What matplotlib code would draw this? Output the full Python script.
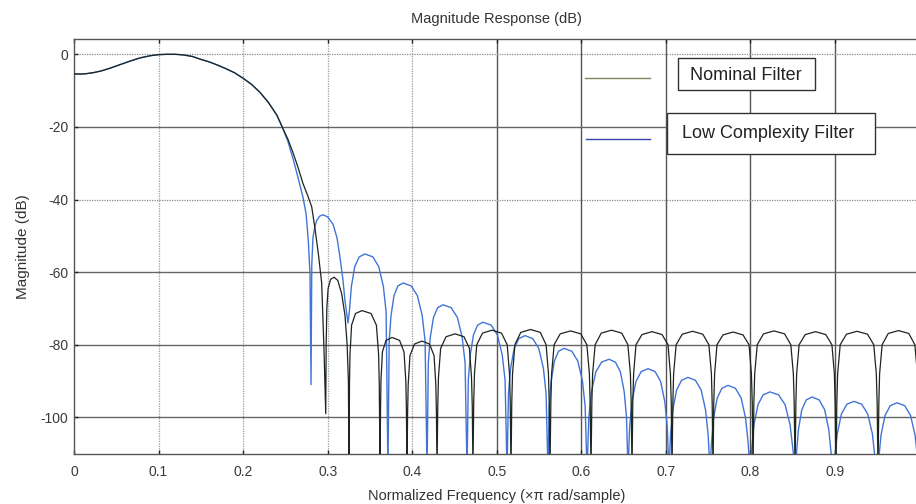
import matplotlib
matplotlib.use("Agg")
import matplotlib.pyplot as plt
import numpy as np
from matplotlib.lines import Line2D
from matplotlib.patches import Rectangle

plt.rcParams['font.family'] = ['Liberation Sans', 'DejaVu Sans']
plt.rcParams['axes.unicode_minus'] = False

# passband, shared by both filters
passband_freq = [0.0, 0.008, 0.016, 0.024, 0.032, 0.043, 0.054, 0.066, 0.078, 0.090,
                 0.100, 0.110, 0.120, 0.130, 0.140, 0.150, 0.160, 0.170, 0.180, 0.190,
                 0.200, 0.210, 0.220, 0.230, 0.240, 0.246]
passband_db = [-5.4, -5.45, -5.3, -5.0, -4.6, -3.8, -2.9, -1.9, -1.0, -0.4,
               -0.1, 0.0, 0.0, -0.2, -0.6, -1.4, -2.1, -3.0, -4.0, -5.1,
               -6.6, -8.3, -10.5, -13.3, -16.8, -19.9]

# nominal filter: transition band + stopband lobes
nominal_freq = [
    0.2530, 0.2593, 0.2650, 0.2708, 0.2765, 0.2811, 0.2850, 0.2890, 0.2929, 0.2956, 0.2977,
    0.2982, 0.2990, 0.3005, 0.3035, 0.3075, 0.3120, 0.3166, 0.3205, 0.3230, 0.3245, 0.3252,
    0.3258, 0.3264, 0.3283, 0.3329, 0.3406, 0.3513, 0.3576, 0.3602, 0.3610, 0.3619,
    0.3625, 0.3630, 0.3647, 0.3690, 0.3761, 0.3850, 0.3903, 0.3924, 0.3931, 0.3938,
    0.3945, 0.3952, 0.3973, 0.4027, 0.4115, 0.4204, 0.4258, 0.4279, 0.4286, 0.4293,
    0.4302, 0.4310, 0.4336, 0.4400, 0.4506, 0.4612, 0.4676, 0.4701, 0.4710, 0.4718,
    0.4727, 0.4736, 0.4763, 0.4831, 0.4943, 0.5056, 0.5123, 0.5150, 0.5159, 0.5168,
    0.5177, 0.5186, 0.5214, 0.5283, 0.5399, 0.5514, 0.5583, 0.5611, 0.5620, 0.5629,
    0.5639, 0.5648, 0.5678, 0.5750, 0.5872, 0.5993, 0.6065, 0.6095, 0.6104, 0.6114,
    0.6124, 0.6133, 0.6163, 0.6235, 0.6357, 0.6478, 0.6550, 0.6580, 0.6589, 0.6599,
    0.6608, 0.6618, 0.6646, 0.6717, 0.6836, 0.6954, 0.7025, 0.7053, 0.7063, 0.7072,
    0.7082, 0.7091, 0.7121, 0.7193, 0.7315, 0.7436, 0.7508, 0.7538, 0.7547, 0.7557,
    0.7566, 0.7576, 0.7604, 0.7675, 0.7794, 0.7912, 0.7983, 0.8011, 0.8021, 0.8030,
    0.8040, 0.8050, 0.8080, 0.8154, 0.8279, 0.8403, 0.8477, 0.8507, 0.8517, 0.8527,
    0.8537, 0.8546, 0.8575, 0.8648, 0.8769, 0.8890, 0.8963, 0.8992, 0.9001, 0.9011,
    0.9021, 0.9031, 0.9061, 0.9135, 0.9260, 0.9384, 0.9458, 0.9488, 0.9498, 0.9508,
    0.9518, 0.9527, 0.9557, 0.9629, 0.9751, 0.9872, 0.9944, 0.9974, 0.9983, 0.9993,
]
nominal_db = [
    -23.4, -27.3, -31.2, -35.6, -39, -42, -48, -55, -63, -81, -99,
    -80, -70, -64.5, -62, -61.4, -62.3, -66, -72, -80, -90, -115,
    -90.6, -82.6, -74.6, -71.4, -70.6, -71.4, -74.6, -82.6, -90.6, -115,
    -98, -90, -82, -78.8, -78, -78.8, -82, -90, -98, -115,
    -99, -91, -83, -79.8, -79, -79.8, -83, -91, -99, -115,
    -97, -89, -81, -77.8, -77, -77.8, -81, -89, -97, -115,
    -96, -88, -80, -76.8, -76, -76.8, -80, -88, -96, -115,
    -96, -88, -80, -76.6, -75.8, -76.6, -80, -88, -96, -115,
    -96, -88, -80, -77.0, -76.2, -77.0, -80, -88, -96, -115,
    -96, -88, -80, -76.8, -76.0, -76.8, -80, -88, -96, -115,
    -96, -88, -80, -77.2, -76.4, -77.2, -80, -88, -96, -115,
    -96, -88, -80, -77.1, -76.3, -77.1, -80, -88, -96, -115,
    -96, -88, -80, -77.3, -76.5, -77.3, -80, -88, -96, -115,
    -96, -88, -80, -77.0, -76.2, -77.0, -80, -88, -96, -115,
    -96, -88, -80, -77.2, -76.4, -77.2, -80, -88, -96, -115,
    -96, -88, -80, -77.1, -76.3, -77.1, -80, -88, -96, -115,
    -96, -88, -80, -76.9, -76.1, -76.9, -80, -88, -96, -115,
]

# low complexity filter: transition band + stopband lobes
lowc_freq = [
    0.2530, 0.2593, 0.2650, 0.2708, 0.2745, 0.2771, 0.2791, 0.2803,
    0.2812, 0.2826, 0.2850, 0.2870, 0.2905, 0.2945, 0.3000, 0.3063, 0.3110, 0.3146, 0.3180, 0.3205, 0.3240,
    0.3256, 0.3280, 0.3320, 0.3373, 0.3441, 0.3534, 0.3604, 0.3659, 0.3691, 0.3713,
    0.3727, 0.3749, 0.3784, 0.3830, 0.3891, 0.3988, 0.4061, 0.4118, 0.4152, 0.4175,
    0.4190, 0.4213, 0.4251, 0.4300, 0.4364, 0.4461, 0.4534, 0.4591, 0.4625, 0.4648,
    0.4663, 0.4686, 0.4724, 0.4773, 0.4837, 0.4934, 0.5007, 0.5064, 0.5098, 0.5121,
    0.5138, 0.5163, 0.5206, 0.5261, 0.5333, 0.5425, 0.5496, 0.5551, 0.5583, 0.5605,
    0.5620, 0.5643, 0.5681, 0.5730, 0.5795, 0.5887, 0.5958, 0.6013, 0.6045, 0.6067,
    0.6088, 0.6119, 0.6171, 0.6239, 0.6327, 0.6403, 0.6462, 0.6507, 0.6534, 0.6552,
    0.6571, 0.6599, 0.6646, 0.6708, 0.6788, 0.6872, 0.6937, 0.6986, 0.7016, 0.7036,
    0.7054, 0.7081, 0.7126, 0.7185, 0.7261, 0.7349, 0.7417, 0.7469, 0.7500, 0.7521,
    0.7538, 0.7564, 0.7606, 0.7662, 0.7734, 0.7822, 0.7890, 0.7942, 0.7973, 0.7994,
    0.8013, 0.8041, 0.8089, 0.8150, 0.8231, 0.8332, 0.8409, 0.8468, 0.8503, 0.8527,
    0.8543, 0.8567, 0.8607, 0.8660, 0.8728, 0.8812, 0.8877, 0.8926, 0.8956, 0.8976,
    0.8996, 0.9026, 0.9075, 0.9140, 0.9224, 0.9316, 0.9387, 0.9442, 0.9474, 0.9496,
    0.9515, 0.9543, 0.9591, 0.9652, 0.9733, 0.9824, 0.9893, 0.9947, 0.9979, 1.0000,
]
lowc_db = [
    -24, -29, -34, -39.4, -44, -51.4, -60.6, -91,
    -58, -50.5, -47.3, -45.8, -44.6, -44.2, -44.8, -46.8, -50.5, -56, -62, -68, -74,
    -71, -64, -58.5, -55.8, -55, -55.8, -58.5, -64, -71, -115,
    -79, -72, -66.5, -63.8, -63, -63.8, -66.5, -72, -79, -115,
    -85, -78, -72.5, -69.8, -69, -69.8, -72.5, -78, -85, -115,
    -89.8, -82.8, -77.3, -74.6, -73.8, -74.6, -77.3, -82.8, -89.8, -115,
    -93.5, -86.5, -81, -78.3, -77.5, -78.3, -81, -86.5, -93.5, -115,
    -97, -90, -84.5, -81.8, -81, -81.8, -84.5, -90, -97, -115,
    -100, -93, -87.5, -84.8, -84, -84.8, -87.5, -93, -100, -115,
    -102.6, -95.6, -90.1, -87.4, -86.6, -87.4, -90.1, -95.6, -102.6, -115,
    -105, -98, -92.5, -89.8, -89, -89.8, -92.5, -98, -105, -115,
    -107.2, -100.2, -94.7, -92, -91.2, -92, -94.7, -100.2, -107.2, -115,
    -109, -102, -96.5, -93.8, -93, -93.8, -96.5, -102, -109, -115,
    -110.4, -103.4, -97.9, -95.2, -94.4, -95.2, -97.9, -103.4, -110.4, -115,
    -111.6, -104.6, -99.1, -96.4, -95.6, -96.4, -99.1, -104.6, -111.6, -115,
    -112, -105, -99.5, -96.8, -96, -96.8, -99.5, -105, -112, -115,
]

xticks = [0, 0.1, 0.2, 0.3, 0.4, 0.5, 0.6, 0.7, 0.8, 0.9]
xticklabels = ['0', '0.1', '0.2', '0.3', '0.4', '0.5', '0.6', '0.7', '0.8', '0.9']
yticks = [0, -20, -40, -60, -80, -100]
solid_vgrid = [0.5, 0.6, 0.7, 0.8, 0.9]
solid_hgrid = [-20, -60, -80, -100]

W, H = 916, 504


def fig_xy(x, y):
    # pixel position -> figure fraction
    return x / W, 1 - y / H


fig = plt.figure(figsize=(W / 100, H / 100), dpi=100)
ax = fig.add_axes([74 / W, 1 - 454 / H, (919.6 - 74) / W, (454 - 38.5) / H])

# grid, the scan has a mix of solid and dotted lines
for xv in xticks[1:]:
    if xv in solid_vgrid:
        ax.axvline(xv, color='#555555', lw=1.0, zorder=0)
    else:
        ax.axvline(xv, color='#9a9a9a', lw=0.9, ls=(0, (1, 1)), zorder=0)
for yv in yticks:
    if yv in solid_hgrid:
        ax.axhline(yv, color='#666666', lw=1.0, zorder=0)
    else:
        ax.axhline(yv, color='#8a8a8a', lw=0.9, ls=(0, (1, 1)), zorder=0)

lowc_f = np.concatenate([passband_freq, lowc_freq])
lowc_m = np.concatenate([passband_db, lowc_db])
nom_f = np.concatenate([passband_freq, nominal_freq])
nom_m = np.concatenate([passband_db, nominal_db])

ax.plot(lowc_f, lowc_m, color='#4274d6', lw=1.0, zorder=2)
ax.plot(nom_f, nom_m, color='#1c261c', lw=0.9, zorder=3)

ax.set_xlim(0, 1)
ax.set_ylim(-110.1, 4.35)
ax.set_xticks(xticks)
ax.set_xticklabels(xticklabels)
ax.set_yticks(yticks)
ax.tick_params(direction='in', length=3, width=1, colors='#222222', labelcolor='#3a3a3a',
               labelsize=10, top=True, right=True)
ax.tick_params(axis='x', pad=8)
ax.tick_params(axis='y', pad=4)
for side in ['left', 'top', 'bottom']:
    ax.spines[side].set_color('#555555')
    ax.spines[side].set_linestyle((0, (1, 1)))
    ax.spines[side].set_linewidth(1.0)

ax.set_title('Magnitude Response (dB)', fontsize=10.5, color='#333333', pad=11)
ax.set_xlabel('Normalized Frequency (\u00d7\u03c0 rad/sample)', fontsize=10.5, color='#333333', labelpad=7)
ax.set_ylabel('Magnitude (dB)', fontsize=11, color='#333333', labelpad=8)

# hand-drawn style legend
fig.add_artist(Line2D([fig_xy(585, 0)[0], fig_xy(650, 0)[0]], [fig_xy(0, 78)[1]] * 2,
                      transform=fig.transFigure, color='#7d8560', lw=1.0))
fig.add_artist(Line2D([fig_xy(586, 0)[0], fig_xy(650, 0)[0]], [fig_xy(0, 139)[1]] * 2,
                      transform=fig.transFigure, color='#3344aa', lw=1.0))

x0, y0 = fig_xy(678, 90)
fig.add_artist(Rectangle((x0, y0), 137 / W, 32 / H, transform=fig.transFigure,
                         fill=True, facecolor='white', edgecolor='#333333', lw=1.0))
fig.text(*fig_xy(746, 76), 'Nominal Filter', ha='center', va='center',
         fontsize=13, color='#222222')

x0, y0 = fig_xy(667, 154)
fig.add_artist(Rectangle((x0, y0), 208 / W, 41 / H, transform=fig.transFigure,
                         fill=True, facecolor='white', edgecolor='#333333', lw=1.0))
fig.text(*fig_xy(768, 133), 'Low Complexity Filter', ha='center', va='center',
         fontsize=13, color='#222222')

fig.savefig('out.png', dpi=100)
